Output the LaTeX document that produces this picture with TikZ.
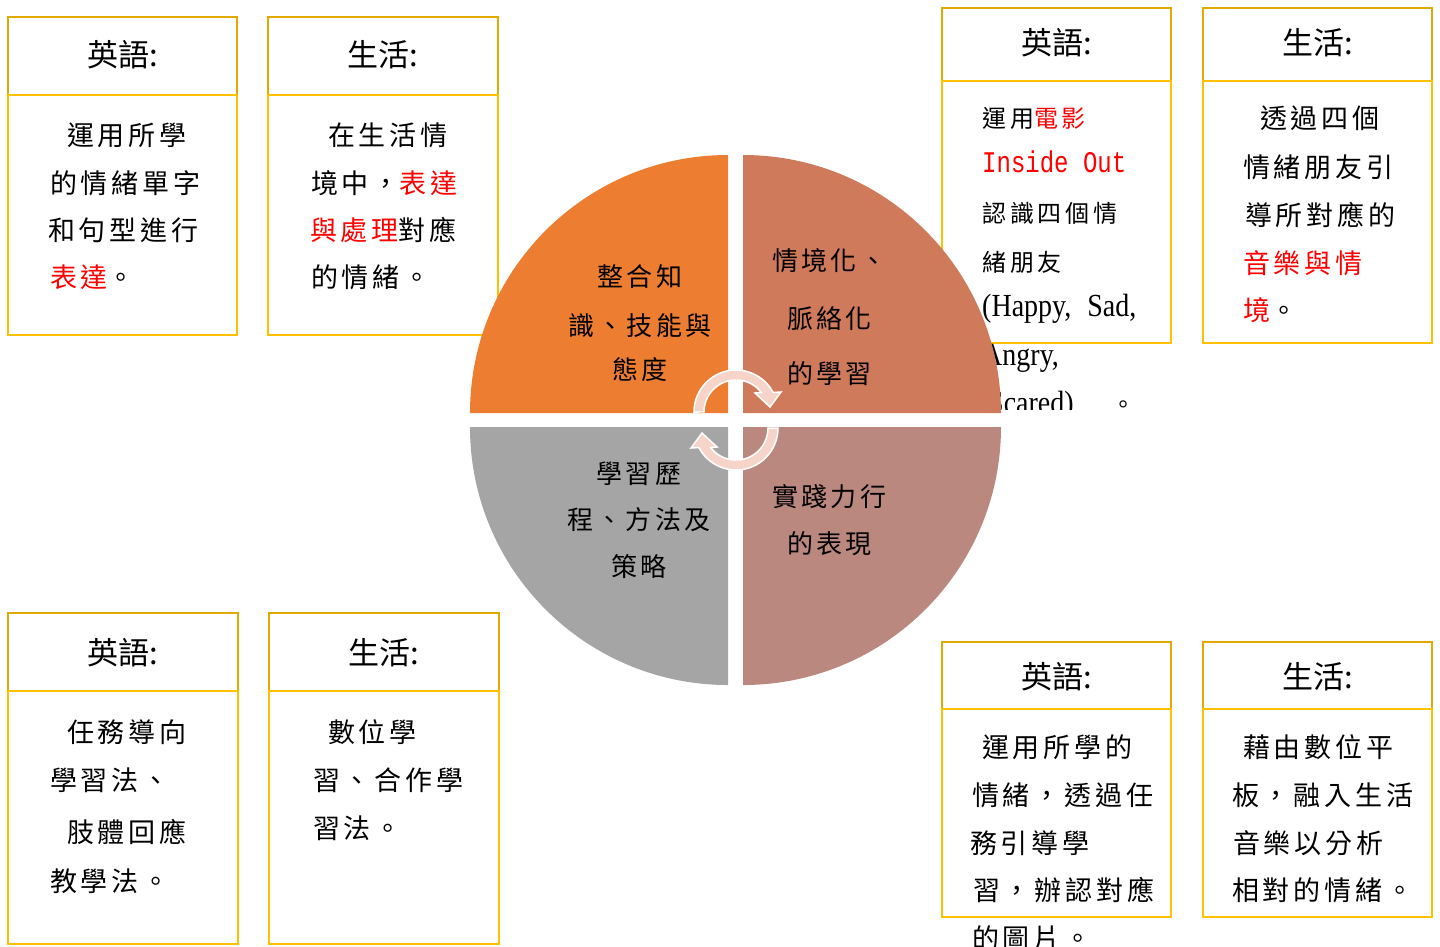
\documentclass[tikz,border=0pt]{standalone}
\usepackage{fontspec}
\usepackage{graphicx}
\newfontfamily\cjk{Noto Sans CJK TC}
\newfontfamily\cjkls[LetterSpace=14]{Noto Sans CJK TC}
\newfontfamily\cjklp[LetterSpace=13]{Noto Sans CJK TC}
\newfontfamily\cjklsb[LetterSpace=16]{Noto Sans CJK TC}
\newfontfamily\latserif{Liberation Serif}
\newfontfamily\latmono{Liberation Mono}
\definecolor{hdrgold}{HTML}{E2AA00}
\definecolor{boxyel}{HTML}{FFC000}
\definecolor{qorange}{HTML}{ED7D31}
\definecolor{qterra}{HTML}{D07A5C}
\definecolor{qgray}{HTML}{A5A5A5}
\definecolor{qrose}{HTML}{BB8880}
\definecolor{arrowpink}{HTML}{F7D4CA}
\newcommand\rd[1]{\textcolor{red}{#1}}
\tikzset{
 hdrbox/.style={draw=hdrgold, line width=2pt},
 bodybox/.style={draw=boxyel, line width=2pt},
 hdr/.style={inner sep=0pt, anchor=base, yshift=-11.8pt, font=\cjk\fontsize{31}{36}\selectfont},
 bt/.style={inner sep=0pt, anchor=base west, yshift=-10.3pt, font=\cjkls\fontsize{27}{30}\selectfont},
 st/.style={inner sep=0pt, anchor=base west, yshift=-9.1pt, font=\cjklsb\fontsize{24}{28}\selectfont},
 pt/.style={inner sep=0pt, anchor=base, yshift=-9.9pt, font=\cjklp\fontsize{26}{30}\selectfont},
 ptw/.style={pt, anchor=base west},
 cyc/.style={fill=arrowpink, draw=white, line width=1.5pt, line join=miter},
}
\begin{document}
\begin{tikzpicture}[x=1pt,y=-1pt]
\useasboundingbox (0,0) rectangle (1440,946);
\fill[white] (0,0) rectangle (1440,946);

% ---- boxes ----
\draw[hdrbox] (8,17) rectangle (237,95);
\draw[bodybox] (8,95) rectangle (237,335);
\draw[hdrbox] (268,17) rectangle (498,95);
\draw[bodybox] (268,95) rectangle (498,335);

\draw[hdrbox] (942,8) rectangle (1171,81);
\draw[bodybox] (942,81) rectangle (1171,343);
\draw[hdrbox] (1203,8) rectangle (1432,81);
\draw[bodybox] (1203,81) rectangle (1432,343);

\draw[hdrbox] (8,613) rectangle (238,691);
\draw[bodybox] (8,691) rectangle (238,944);
\draw[hdrbox] (269,613) rectangle (499,691);
\draw[bodybox] (269,691) rectangle (499,944);

\draw[hdrbox] (942,642) rectangle (1171,709);
\draw[bodybox] (942,709) rectangle (1171,917);
\draw[hdrbox] (1203,642) rectangle (1432,709);
\draw[bodybox] (1203,709) rectangle (1432,917);

% ---- headers ----
\node[hdr] (h1) at (122.5,55) {英語:};
\node[hdr] (h2) at (383,55) {生活:};
\node[hdr] (h3) at (1056.5,43) {英語:};
\node[hdr] (h4) at (1317.5,43) {生活:};
\node[hdr] (h5) at (123,653) {英語:};
\node[hdr] (h6) at (384,653) {生活:};
\node[hdr] (h7) at (1056.5,677) {英語:};
\node[hdr] (h8) at (1317.5,677) {生活:};

% ---- top-left texts ----
\node[bt] (a1) at (67,135) {運用所學};
\node[bt] (a2) at (50,183) {的情緒單字};
\node[bt] (a3) at (48,230) {和句型進行};
\node[bt] (a4) at (50,277) {\rd{表達}。};

\node[bt] (b1) at (328,135) {在生活情};
\node[bt] (b2) at (311,183) {境中，\rd{表達}};
\node[bt] (b3) at (310,230) {\rd{與處理}對應};
\node[bt] (b4) at (311,277) {的情緒。};

% ---- top-right texts ----
\begin{scope}
\clip (930,82) rectangle (1185,409);
\node[st] (c1) at (982,118) {運用\rd{電影}};
\node[st] (c2) at (982,163) {\rd{\latmono\fontsize{24}{28}\selectfont\scalebox{1}[1.25]{Inside Out}}};
\node[st] (c3) at (982,213) {認識四個情};
\node[st] (c4) at (982,262) {緒朋友};
\node[st] (c5) at (982,307) {\latserif\fontsize{28}{32}\selectfont\scalebox{1}[1.15]{(Happy,\hspace{16pt}Sad,}};
\node[st] (c6) at (982,356) {\latserif\fontsize{28}{32}\selectfont\scalebox{1}[1.15]{Angry,}};
\node[st] (c7) at (988,404) {{\latserif\fontsize{28}{32}\selectfont\scalebox{1}[1.15]{Scared)}}\hspace{38pt}。};
\end{scope}

\node[bt] (d1) at (1260,118) {透過四個};
\node[bt] (d2) at (1243,167) {情緒朋友引};
\node[bt] (d3) at (1245,215) {導所對應的};
\node[bt] (d4) at (1243,263) {\rd{音樂與情}};
\node[bt] (d5) at (1243,310) {\rd{境}。};

% ---- bottom-left texts ----
\node[bt] (e1) at (67,732) {任務導向};
\node[bt] (e2) at (50,780) {學習法、};
\node[bt] (e3) at (67,832) {肢體回應};
\node[bt] (e4) at (50,881) {教學法。};

\node[bt] (f1) at (328,732) {數位學};
\node[bt] (f2) at (313,780) {習、合作學};
\node[bt] (f3) at (313,828) {習法。};

% ---- bottom-right texts ----
\node[bt] (g1) at (982,747) {運用所學的};
\node[bt] (g2) at (972,795) {情緒，透過任};
\node[bt] (g3) at (970,843) {務引導學};
\node[bt] (g4) at (973,890) {習，辦認對應};
\node[bt] (g5) at (972,938) {的圖片。};

\node[bt] (k1) at (1243,747) {藉由數位平};
\node[bt] (k2) at (1232,795) {板，融入生活};
\node[bt] (k3) at (1233,843) {音樂以分析};
\node[bt] (k4) at (1232,890) {相對的情緒。};

% ---- pie ----
\fill[qorange] (728,413) -- (470,413) arc[start angle=180, end angle=270, radius=258] -- cycle;
\fill[qterra] (743,413) -- (743,155) arc[start angle=270, end angle=360, radius=258] -- cycle;
\fill[qrose] (743,427) -- (1001,427) arc[start angle=0, end angle=90, radius=258] -- cycle;
\fill[qgray] (728,427) -- (728,685) arc[start angle=90, end angle=180, radius=258] -- cycle;

\node[pt] (p1) at (640,277) {整合知};
\node[pt] (p2) at (640,326) {識、技能與};
\node[pt] (p3) at (640,370) {態度};

\begin{scope}
\clip (740,150) rectangle (1005,385);
\node[ptw] (q1) at (772,261) {情境化、};
\node[ptw] (q2) at (787,319) {脈絡化};
\node[ptw] (q3) at (787,374) {的學習};
\end{scope}

\node[pt] (r1) at (639,474) {學習歷};
\node[pt] (r2) at (639,520) {程、方法及};
\node[pt] (r3) at (639,567) {策略};

\node[ptw] (s1) at (772,497) {實踐力行};
\node[ptw] (s2) at (787,544) {的表現};

% ---- cycle arrows ----
\path[cyc] (694,412) arc[start angle=180, end angle=332.3, radius=42] -- (781,392) -- (770,407) -- (755,393) -- (761.4,392.5) arc[start angle=322.5, end angle=180, radius=32] -- cycle;
\path[cyc, rotate around={180:(736,420)}] (694,412) arc[start angle=180, end angle=332.3, radius=42] -- (781,392) -- (770,407) -- (755,393) -- (761.4,392.5) arc[start angle=322.5, end angle=180, radius=32] -- cycle;
\end{tikzpicture}
\end{document}
